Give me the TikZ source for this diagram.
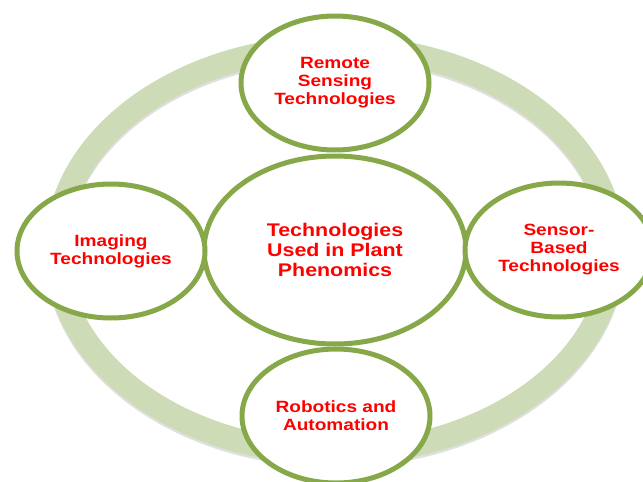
\documentclass[tikz,border=0pt]{standalone}
\usepackage{fontspec}
\usetikzlibrary{shapes.geometric,shadows}
\newfontfamily\lblfont{Liberation Sans}[FakeStretch=1.17]
\definecolor{ringgreen}{RGB}{205,219,183}
\definecolor{rimgreen}{RGB}{134,168,72}
\definecolor{lblred}{RGB}{255,0,0}
\begin{document}
\begin{tikzpicture}[x=1pt,y=-1pt,
  bubble/.style={ellipse, draw=rimgreen, line width=5pt, fill=white,
    minimum width=188pt, minimum height=134pt, inner sep=0pt, align=center,
    text=lblred, font=\lblfont\bfseries\fontsize{16.3}{18}\selectfont,
    drop shadow={opacity=0.18, shadow xshift=0pt, shadow yshift=-2pt}},
  hub/.style={bubble, minimum width=262pt, minimum height=188pt,
    font=\lblfont\bfseries\fontsize{18.3}{20}\selectfont}]
\useasboundingbox (0,0) rectangle (643,482);
\clip (0,0) rectangle (643,482);

% outer ring with its soft shadow
\draw[black, opacity=0.12, line width=24pt] (335,252.5) ellipse [x radius=278.5pt, y radius=203pt];
\draw[ringgreen, line width=24pt] (335,250) ellipse [x radius=278.5pt, y radius=203pt];

% central topic
\node[hub] (hub) at (335,250) {Technologies\\Used in Plant\\Phenomics};

% surrounding technologies
\node[bubble] (remote)   at (335,83)  {Remote\\Sensing\\Technologies};
\node[bubble] (imaging)  at (111,251) {Imaging\\Technologies};
\node[bubble] (sensor)   at (559,250) {Sensor-\\Based\\Technologies};
\node[bubble] (robotics) at (336,416) {Robotics and\\Automation};
\end{tikzpicture}
\end{document}
